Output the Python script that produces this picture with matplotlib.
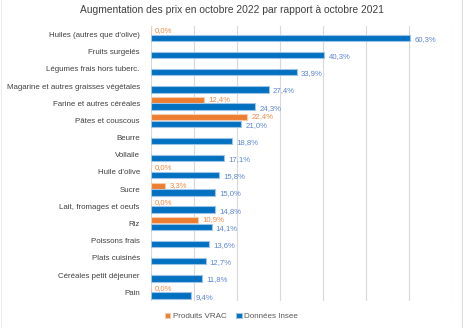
import numpy as np
from matplotlib import pyplot as plt

# Hausse des prix oct. 2022 / oct. 2021, en %
categories = ["Huiles (autres que d'olive)", "Fruits surgelés", "Légumes frais hors tuberc.",
              "Magarine et autres graisses végétales", "Farine et autres céréales",
              "Pâtes et couscous", "Beurre", "Vollaile", "Huile d'olive", "Sucre",
              "Lait, fromages et oeufs", "Riz", "Poissons frais", "Plats cuisinés",
              "Céréales petit déjeuner", "Pain"]
vrac = [0.0, np.nan, np.nan, np.nan, 12.4, 22.4, np.nan, np.nan, 0.0, 3.3,
        0.0, 10.9, np.nan, np.nan, np.nan, 0.0]
insee = [60.3, 40.3, 33.9, 27.4, 24.3, 21.0, 18.8, 17.1, 15.8, 15.0,
         14.8, 14.1, 13.6, 12.7, 11.8, 9.4]

plt.rcParams['font.family'] = ['Liberation Sans', 'DejaVu Sans']

orange = '#ED7D31'
blue = '#0070C0'

fig = plt.figure(figsize=(4.63, 3.28), dpi=100)
ax = fig.add_axes([0.326, 0.083, 0.65, 0.838])

y = np.arange(len(categories))
h = 0.37
ax.barh(y - h / 2 - 0.01, vrac, height=h, color=orange, edgecolor='#F8CBAD', linewidth=0.8,
        label='Produits VRAC', zorder=3)
ax.barh(y + h / 2 + 0.01, insee, height=h, color=blue, edgecolor='#9DC3E6', linewidth=0.8,
        label='Données Insee', zorder=3)

def pct(v):
    return f"{v:.1f}%".replace('.', ',')

for i, v in enumerate(vrac):
    if not np.isnan(v):
        ax.text(v + 1.0, i - h / 2 - 0.05, pct(v), color='#F08A45', fontsize=5.6,
                va='center', ha='left')
for i, v in enumerate(insee):
    ax.text(v + 1.0, i + h / 2 + 0.1, pct(v), color='#5B84D6', fontsize=5.6,
            va='center', ha='left')

ax.set_xlim(0, 70)
ax.set_ylim(len(categories) - 0.5, -0.5)
ax.set_xticks(np.arange(0, 71, 10))
ax.set_xticklabels([])
ax.set_yticks(y)
ax.set_yticklabels(categories, fontsize=5.7, color='#404040')
ax.tick_params(axis='both', length=0, pad=8)
ax.grid(axis='x', color='#D9D9D9', linewidth=0.8, zorder=0)
for side in ['top', 'right', 'bottom', 'left']:
    ax.spines[side].set_visible(False)

fig.text(0.5, 0.968, 'Augmentation des prix en octobre 2022 par rapport à octobre 2021',
         ha='center', va='center', fontsize=7.4, color='#404040')

fig.legend(loc='center', bbox_to_anchor=(0.5, 0.035), ncol=2, frameon=False,
           fontsize=5.8, handlelength=0.7, handleheight=0.7, handletextpad=0.3,
           columnspacing=1.2, labelcolor='#595959')

# bordures de la feuille
fig.add_artist(plt.Line2D([0.998, 0.998], [0, 1], transform=fig.transFigure,
                          color='#D9D9D9', linewidth=0.8))
fig.add_artist(plt.Line2D([0.003, 0.003], [0, 1], transform=fig.transFigure,
                          color='#EDEDED', linewidth=0.8))

fig.savefig('out.png', dpi=100)
